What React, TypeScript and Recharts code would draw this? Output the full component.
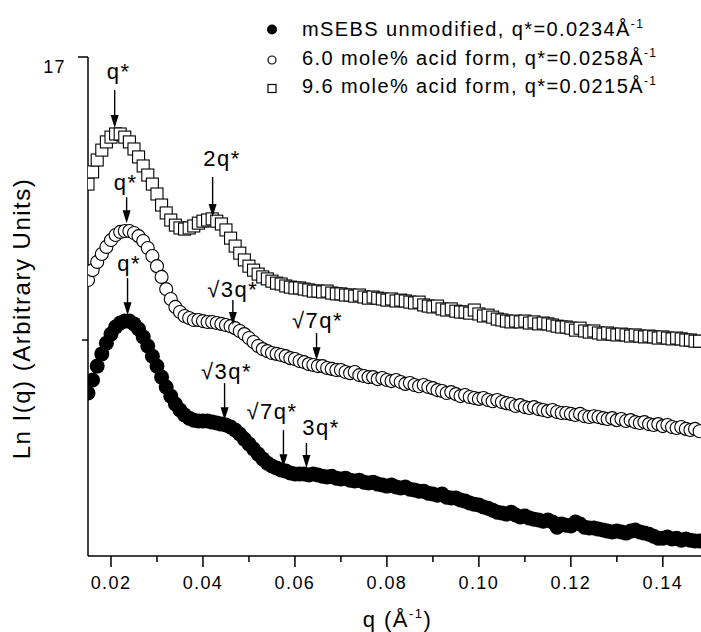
import React from 'react';
import { ScatterChart, Scatter, XAxis, YAxis, ReferenceDot } from 'recharts';

const FONT = '"Liberation Sans", Arial, Helvetica, sans-serif';

// q grid (Å^-1)
const qValues = [
  0.015, 0.016, 0.017, 0.018, 0.019, 0.020, 0.021, 0.022, 0.023, 0.024,
  0.025, 0.026, 0.027, 0.028, 0.029, 0.030, 0.031, 0.032, 0.033, 0.034,
  0.035, 0.036, 0.037, 0.038, 0.039, 0.040, 0.041, 0.042, 0.043, 0.044,
  0.045, 0.046, 0.047, 0.048, 0.049, 0.050, 0.051, 0.052, 0.053, 0.054,
  0.055, 0.056, 0.057, 0.058, 0.059, 0.060, 0.061, 0.062, 0.063, 0.064,
  0.065, 0.066, 0.067, 0.068, 0.069, 0.070, 0.071, 0.072, 0.073, 0.074,
  0.075, 0.076, 0.077, 0.078, 0.079, 0.080, 0.081, 0.082, 0.083, 0.084,
  0.085, 0.086, 0.087, 0.088, 0.089, 0.090, 0.091, 0.092, 0.093, 0.094,
  0.095, 0.096, 0.097, 0.098, 0.099, 0.100, 0.101, 0.102, 0.103, 0.104,
  0.105, 0.106, 0.107, 0.108, 0.109, 0.110, 0.111, 0.112, 0.113, 0.114,
  0.115, 0.116, 0.117, 0.118, 0.119, 0.120, 0.121, 0.122, 0.123, 0.124,
  0.125, 0.126, 0.127, 0.128, 0.129, 0.130, 0.131, 0.132, 0.133, 0.134,
  0.135, 0.136, 0.137, 0.138, 0.139, 0.140, 0.141, 0.142, 0.143, 0.144,
  0.145, 0.146, 0.147, 0.148,
];

// mSEBS unmodified (filled circles)
const unmodified = [
  15.813, 15.859, 15.908, 15.951, 15.989, 16.021, 16.046, 16.060, 16.067, 16.067,
  16.057, 16.039, 16.011, 15.979, 15.943, 15.908, 15.869, 15.834, 15.802, 15.774,
  15.753, 15.735, 15.724, 15.717, 15.714, 15.714, 15.714, 15.710, 15.707, 15.703,
  15.700, 15.693, 15.682, 15.668, 15.650, 15.633, 15.615, 15.597, 15.580, 15.565,
  15.555, 15.548, 15.541, 15.537, 15.530, 15.527, 15.527, 15.527, 15.523, 15.527,
  15.523, 15.519, 15.516, 15.519, 15.512, 15.509, 15.512, 15.505, 15.502, 15.505,
  15.498, 15.495, 15.498, 15.491, 15.488, 15.484, 15.488, 15.481, 15.477, 15.481,
  15.473, 15.470, 15.466, 15.466, 15.459, 15.456, 15.452, 15.456, 15.445, 15.442,
  15.442, 15.435, 15.431, 15.424, 15.420, 15.417, 15.410, 15.406, 15.399, 15.392,
  15.389, 15.385, 15.392, 15.382, 15.375, 15.378, 15.371, 15.367, 15.364, 15.360,
  15.364, 15.357, 15.339, 15.350, 15.346, 15.343, 15.357, 15.350, 15.339, 15.336,
  15.336, 15.332, 15.329, 15.325, 15.322, 15.325, 15.322, 15.318, 15.325, 15.329,
  15.322, 15.318, 15.314, 15.307, 15.300, 15.300, 15.304, 15.297, 15.300, 15.293,
  15.297, 15.293, 15.290, 15.290,
];

// 6.0 mole% acid form (open circles)
const acid60 = [
  16.212, 16.247, 16.276, 16.304, 16.329, 16.353, 16.371, 16.382, 16.385, 16.385,
  16.378, 16.367, 16.350, 16.325, 16.297, 16.261, 16.223, 16.180, 16.145, 16.117,
  16.099, 16.085, 16.078, 16.071, 16.071, 16.067, 16.064, 16.064, 16.060, 16.057,
  16.053, 16.049, 16.042, 16.032, 16.021, 16.007, 15.993, 15.979, 15.968, 15.961,
  15.954, 15.951, 15.947, 15.943, 15.936, 15.933, 15.926, 15.922, 15.915, 15.912,
  15.908, 15.908, 15.901, 15.898, 15.894, 15.894, 15.887, 15.883, 15.887, 15.876,
  15.873, 15.869, 15.869, 15.862, 15.866, 15.859, 15.855, 15.859, 15.852, 15.845,
  15.848, 15.841, 15.837, 15.841, 15.834, 15.830, 15.823, 15.820, 15.813, 15.816,
  15.809, 15.802, 15.806, 15.799, 15.795, 15.792, 15.795, 15.788, 15.784, 15.788,
  15.781, 15.777, 15.774, 15.767, 15.770, 15.763, 15.760, 15.763, 15.756, 15.753,
  15.749, 15.753, 15.746, 15.742, 15.742, 15.739, 15.735, 15.739, 15.731, 15.728,
  15.731, 15.728, 15.724, 15.721, 15.724, 15.717, 15.721, 15.714, 15.717, 15.710,
  15.707, 15.710, 15.703, 15.700, 15.703, 15.696, 15.700, 15.693, 15.689, 15.693,
  15.686, 15.682, 15.686, 15.678,
];

// 9.6 mole% acid form (open squares)
const acid96 = [
  16.551, 16.594, 16.636, 16.671, 16.700, 16.717, 16.728, 16.728, 16.717, 16.700,
  16.675, 16.647, 16.615, 16.583, 16.551, 16.516, 16.477, 16.449, 16.424, 16.406,
  16.396, 16.392, 16.396, 16.403, 16.413, 16.420, 16.424, 16.428, 16.420, 16.410,
  16.389, 16.360, 16.332, 16.307, 16.283, 16.261, 16.247, 16.233, 16.223, 16.216,
  16.208, 16.201, 16.198, 16.191, 16.187, 16.184, 16.184, 16.180, 16.177, 16.173,
  16.173, 16.170, 16.173, 16.166, 16.163, 16.163, 16.159, 16.159, 16.155, 16.159,
  16.152, 16.148, 16.152, 16.148, 16.145, 16.141, 16.145, 16.138, 16.141, 16.138,
  16.134, 16.131, 16.134, 16.124, 16.120, 16.117, 16.120, 16.110, 16.106, 16.110,
  16.102, 16.099, 16.099, 16.095, 16.106, 16.092, 16.085, 16.088, 16.081, 16.074,
  16.071, 16.067, 16.064, 16.067, 16.064, 16.067, 16.060, 16.064, 16.057, 16.060,
  16.057, 16.053, 16.049, 16.046, 16.046, 16.042, 16.035, 16.042, 16.032, 16.028,
  16.032, 16.025, 16.021, 16.025, 16.021, 16.018, 16.021, 16.018, 16.014, 16.018,
  16.014, 16.011, 16.014, 16.011, 16.007, 16.011, 16.007, 16.004, 16.007, 16.004,
  16.000, 16.000, 15.996, 15.996,
];

const xDomain = [0.015, 0.1483];
const yDomain = [15.237, 17];
const xTicks = [0.02, 0.03, 0.04, 0.05, 0.06, 0.07, 0.08, 0.09, 0.1, 0.11, 0.12, 0.13, 0.14];
const xMajorTicks = [0.02, 0.04, 0.06, 0.08, 0.1, 0.12, 0.14];
const yTicks = [16, 17];
const yTickLabels: Record<string, string> = { '17': '17' };

const legendLabels = [
  'mSEBS unmodified, q*=0.0234Å',
  '6.0 mole% acid form, q*=0.0258Å',
  '9.6 mole% acid form, q*=0.0215Å',
];

// peak annotations: label, q position, Ln I at arrow tip
const annotationLabels = ['q*', '2q*', 'q*', '√3q*', '√7q*', 'q*', '√3q*', '√7q*', '3q*'];
const annotationQ = [0.0208, 0.0421, 0.0234, 0.0465, 0.0647, 0.0236, 0.0447, 0.0575, 0.0625];
const annotationV = [16.749, 16.435, 16.413, 16.053, 15.929, 16.088, 15.717, 15.551, 15.548];

// drawing layout for annotations (arrow length, text baseline distance, text x shift)
const annotationLayout = [
  { len: 38, gap: 49, dx: 4 },
  { len: 40, gap: 51, dx: 9.5 },
  { len: 26, gap: 33.5, dx: -1 },
  { len: 25, gap: 28.5, dx: 0 },
  { len: 27, gap: 32, dx: 1 },
  { len: 37, gap: 44, dx: 1.5 },
  { len: 37, gap: 41.5, dx: 2 },
  { len: 37, gap: 48.5, dx: -11.5 },
  { len: 25, gap: 33, dx: 14.5 },
];

const buildSeries = (vals: number[]) => qValues.map((q, i) => ({ q, v: vals[i] }));
const dataUnmodified = buildSeries(unmodified);
const dataAcid60 = buildSeries(acid60);
const dataAcid96 = buildSeries(acid96);

const FilledCircle = (p: any) => <circle cx={p.cx} cy={p.cy} r={7.5} fill="#000" />;
const OpenCircle = (p: any) => (
  <circle cx={p.cx} cy={p.cy} r={6.5} fill="#fff" stroke="#000" strokeWidth={1.1} />
);
const OpenSquare = (p: any) => (
  <rect x={p.cx - 6} y={p.cy - 6} width={12} height={12} fill="#fff" stroke="#000" strokeWidth={1.1} />
);

const XTick = (props: any) => {
  const { x, y, payload } = props;
  const val = payload.value as number;
  const major = xMajorTicks.some((m) => Math.abs(m - val) < 1e-6);
  return (
    <g>
      <line x1={x} x2={x} y1={y} y2={y + (major ? 11 : 6)} stroke="#000" strokeWidth={1.5} />
      {major && (
        <text x={x} y={y + 33} textAnchor="middle" fontSize={18} fontFamily={FONT} fill="#000"
          style={{ letterSpacing: '1.4px' }}>
          {val.toFixed(2)}
        </text>
      )}
    </g>
  );
};

const YTick = (props: any) => {
  const { x, y, payload } = props;
  const label = yTickLabels[String(payload.value)];
  return (
    <g>
      <line x1={x - (label ? 10 : 6)} x2={x} y1={y} y2={y} stroke="#000" strokeWidth={1.5} />
      {label && (
        <text x={x - 22} y={y + 16} textAnchor="end" fontSize={18} fontFamily={FONT} fill="#000"
          style={{ letterSpacing: '1.4px' }}>
          {label}
        </text>
      )}
    </g>
  );
};

const XTitle = (props: any) => {
  const vb = props.viewBox || {};
  const cx = vb.x + vb.width / 2 + 3;
  const by = vb.y + 71;
  return (
    <text x={cx} y={by} textAnchor="middle" fontSize={22} fontFamily={FONT} fill="#000"
      style={{ letterSpacing: '1.5px' }}>
      q (Å<tspan dy={-9} fontSize={13}>-1</tspan><tspan dy={9}>)</tspan>
    </text>
  );
};

const YTitle = (props: any) => {
  const vb = props.viewBox || {};
  const bx = vb.x + 30;
  const cy = vb.y + vb.height / 2 + 12;
  return (
    <text x={bx} y={cy} transform={`rotate(-90 ${bx} ${cy})`} textAnchor="middle" fontSize={24}
      fontFamily={FONT} fill="#000" style={{ letterSpacing: '1.5px' }}>
      Ln I(q) (Arbitrary Units)
    </text>
  );
};

const makeAnnotation = (label: string, layout: { len: number; gap: number; dx: number }) => (props: any) => {
  const { cx, cy } = props;
  return (
    <g>
      <line x1={cx} x2={cx} y1={cy - layout.len} y2={cy - 12} stroke="#000" strokeWidth={1.4} />
      <polygon points={`${cx},${cy} ${cx - 4},${cy - 13} ${cx + 4},${cy - 13}`} fill="#000" />
      <text x={cx + layout.dx} y={cy - layout.gap} textAnchor="middle" fontSize={22} fontFamily={FONT}
        fill="#000" style={{ letterSpacing: '1.5px' }}>
        {label}
      </text>
    </g>
  );
};

const legendMarkers = [
  (y: number) => <circle cx={272} cy={y} r={5} fill="#000" />,
  (y: number) => <circle cx={272} cy={y} r={4} fill="#fff" stroke="#000" strokeWidth={1.2} />,
  (y: number) => <rect x={268} y={y - 4} width={8} height={8} fill="#fff" stroke="#000" strokeWidth={1.2} />,
];
const legendRowMarkerY = [29.5, 60, 88.5];
const legendRowBaseline = [36, 64.5, 93];

export default function App() {
  return (
    <div style={{ position: 'absolute', left: 0, top: 0, width: 701, height: 632, background: '#fff' }}>
      <ScatterChart width={701} height={632} margin={{ top: 57, right: 0, bottom: 0, left: 0 }}>
        <XAxis
          type="number"
          dataKey="q"
          domain={xDomain}
          ticks={xTicks}
          interval={0}
          allowDataOverflow
          height={76}
          tickSize={0}
          tickMargin={0}
          tickLine={false}
          tick={(p: any) => <XTick {...p} />}
          axisLine={{ stroke: '#000', strokeWidth: 1.5 }}
          label={{ content: (p: any) => <XTitle {...p} /> }}
        />
        <YAxis
          type="number"
          dataKey="v"
          domain={yDomain}
          ticks={yTicks}
          interval={0}
          allowDataOverflow
          width={88}
          tickSize={0}
          tickMargin={0}
          tickLine={false}
          tick={(p: any) => <YTick {...p} />}
          axisLine={{ stroke: '#000', strokeWidth: 1.5 }}
          label={{ content: (p: any) => <YTitle {...p} /> }}
        />
        <Scatter data={dataUnmodified} shape={FilledCircle} isAnimationActive={false} />
        <Scatter data={dataAcid60} shape={OpenCircle} isAnimationActive={false} />
        <Scatter data={dataAcid96} shape={OpenSquare} isAnimationActive={false} />
        {annotationLabels.map((lab, i) => (
          <ReferenceDot
            key={i}
            x={annotationQ[i]}
            y={annotationV[i]}
            r={0}
            ifOverflow="visible"
            shape={makeAnnotation(lab, annotationLayout[i])}
          />
        ))}
      </ScatterChart>
      <svg width={701} height={110} style={{ position: 'absolute', left: 0, top: 0, pointerEvents: 'none' }}>
        {legendLabels.map((lab, i) => (
          <g key={i}>
            {legendMarkers[i](legendRowMarkerY[i])}
            <text x={302} y={legendRowBaseline[i]} fontSize={20} fontFamily={FONT} fill="#000"
              style={{ letterSpacing: '1.4px' }}>
              {lab}
              <tspan dy={-8} fontSize={12}>-1</tspan>
            </text>
          </g>
        ))}
      </svg>
    </div>
  );
}
